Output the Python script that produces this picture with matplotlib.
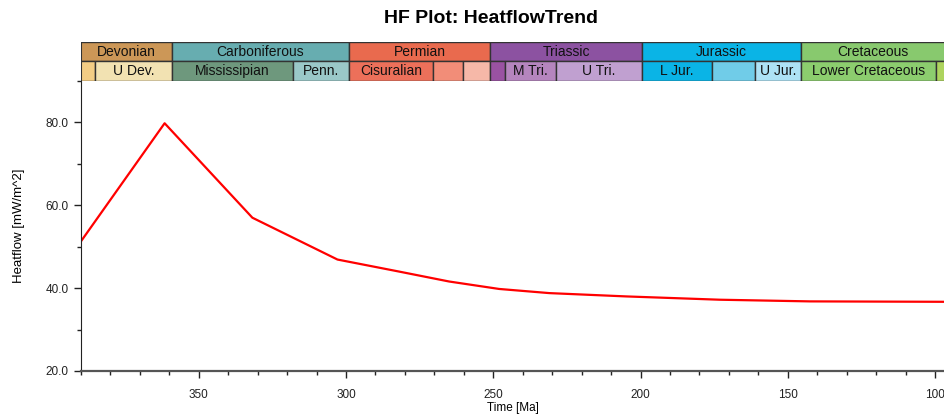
import matplotlib.pyplot as plt
import numpy as np
from matplotlib.ticker import MultipleLocator, FormatStrFormatter

plt.rcParams["font.family"] = ["Liberation Sans", "DejaVu Sans"]

# heat flow trend (Ma, mW/m^2)
age = [390.4, 361.6, 331.8, 302.9, 282.0, 265.0, 248.0, 231.0, 204.9, 173.0, 142.5, 96.6]
heatflow = [50.9, 79.8, 57.0, 46.9, 44.0, 41.6, 39.8, 38.8, 38.0, 37.2, 36.8, 36.7]

# geologic periods (start, end, name, colour)
periods = [
    (416.0, 359.2, "Devonian", "#CC9757"),
    (359.2, 299.0, "Carboniferous", "#67ADB0"),
    (299.0, 251.0, "Permian", "#E96A4E"),
    (251.0, 199.6, "Triassic", "#8C52A1"),
    (199.6, 145.5, "Jurassic", "#0AB4E6"),
    (145.5, 65.5, "Cretaceous", "#88C96E"),
]
epochs = [
    (397.5, 385.3, "", "#F3CD85"),
    (385.3, 359.2, "U Dev.", "#F2E2B2"),
    (359.2, 318.1, "Mississipian", "#6E987D"),
    (318.1, 299.0, "Penn.", "#9AC8C8"),
    (299.0, 270.6, "Cisuralian", "#EC705A"),
    (270.6, 260.4, "", "#F28D78"),
    (260.4, 251.0, "", "#F6B8A8"),
    (251.0, 245.9, "", "#9A52A2"),
    (245.9, 228.7, "M Tri.", "#B585BE"),
    (228.7, 199.6, "U Tri.", "#C0A0D0"),
    (199.6, 175.6, "L Jur.", "#0AB4E6"),
    (175.6, 161.2, "", "#70CCE8"),
    (161.2, 145.5, "U Jur.", "#ADE2F5"),
    (145.5, 99.6, "Lower Cretaceous", "#8CCD6E"),
    (99.6, 65.5, "", "#ADD45E"),
]

x_left, x_right = 390.0, 96.6

fig = plt.figure(figsize=(9.45, 4.19), dpi=100)
ax = fig.add_axes([0.0857, 0.1146, 0.9143, 0.6921])
ax_band = fig.add_axes([0.0857, 0.8067, 0.9143, 0.0931], sharex=ax)

ax.plot(age, heatflow, color="red", linewidth=1.6)
ax.set_xlim(x_left, x_right)
ax.set_ylim(20, 90)
ax.xaxis.set_major_locator(MultipleLocator(50))
ax.xaxis.set_minor_locator(MultipleLocator(10))
ax.yaxis.set_major_locator(MultipleLocator(20))
ax.yaxis.set_minor_locator(MultipleLocator(10))
ax.yaxis.set_major_formatter(FormatStrFormatter("%.1f"))
ax.tick_params(which="major", length=5, width=1, labelsize=8.5, colors="#222222", pad=8)
ax.tick_params(which="minor", length=3, width=1, colors="#222222")
ax.tick_params(axis="y", pad=4)
for side in ["top", "right"]:
    ax.spines[side].set_visible(False)
ax.spines["left"].set_color("#222222")
ax.spines["bottom"].set_color("#555555")
ax.spines["bottom"].set_linewidth(1.6)
ax.set_xlabel("Time [Ma]", fontsize=8.5, labelpad=1)
ax.set_ylabel("Heatflow [mW/m^2]", fontsize=9.5, labelpad=15)

# time-scale header
def draw_row(rows, y0):
    for start, end, name, colour in rows:
        ax_band.barh(y0 + 0.5, start - end, left=end, height=1.0, color=colour,
                     edgecolor="#333333", linewidth=1.0)
        mid = (max(min(start, x_left), x_right) + max(end, x_right)) / 2
        if name:
            ax_band.text(mid, y0 + 0.5, name, ha="center", va="center",
                         fontsize=10, color="#111111", clip_on=True)

draw_row(periods, 1.0)
draw_row(epochs, 0.0)
ax_band.axvline(x_left, color="#333333", linewidth=1.5)
ax_band.set_ylim(0, 2)
ax_band.set_xlim(x_left, x_right)
ax_band.axis("off")

fig.text(0.52, 0.955, "HF Plot: HeatflowTrend", fontsize=14, fontweight="bold",
         ha="center", va="center")

fig.savefig("out.png", dpi=100)
